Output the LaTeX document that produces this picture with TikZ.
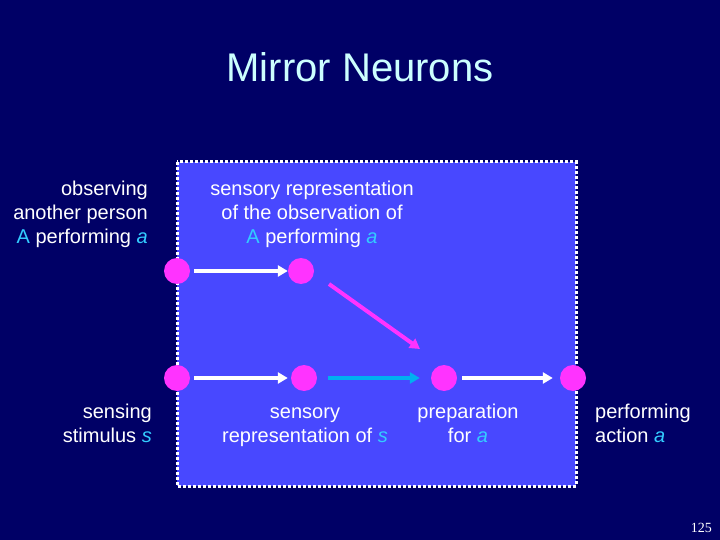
\documentclass[tikz,border=0pt]{standalone}
\usepackage{fontspec}
\setmainfont{Liberation Sans}
\setsansfont{Liberation Sans}
\newfontfamily\pgserif{Liberation Serif}
\usetikzlibrary{arrows.meta}
\definecolor{bgnavy}{RGB}{0,0,102}
\definecolor{boxblue}{RGB}{72,72,255}
\definecolor{neuron}{RGB}{255,51,255}
\definecolor{varcyan}{RGB}{51,204,255}
\definecolor{arrcyan}{RGB}{0,176,240}
\definecolor{titlecol}{RGB}{204,255,255}
\newcommand{\va}[1]{\textcolor{varcyan}{#1}}
\newcommand{\vi}[1]{\textcolor{varcyan}{\textit{#1}}}
\tikzset{
  neu/.style={circle, fill=neuron, minimum size=26pt, inner sep=0pt},
  lbl/.style={text=white, inner sep=0pt, font=\fontsize{20}{24}\selectfont},
  conn/.style={line width=4pt, -{Triangle[length=10pt,width=11pt]}},
}
\begin{document}
\begin{tikzpicture}[x=1pt,y=-1pt]
\fill[bgnavy] (0,0) rectangle (720,540);
\useasboundingbox (0,0) rectangle (720,540);
\node[text=titlecol, font=\fontsize{40}{44}\selectfont, anchor=base] (title) at (360,82) {Mirror Neurons};
\draw[white, fill=boxblue, line width=3pt, dash pattern=on 3pt off 2pt] (177,162) rectangle (576,486);
% neurons
\node[neu] (n1) at (177,271) {};
\node[neu] (n2) at (301,271) {};
\node[neu] (n3) at (177,378) {};
\node[neu] (n4) at (304,378) {};
\node[neu] (n5) at (444,378) {};
\node[neu] (n6) at (573,378) {};
% connectors
\draw[conn, white, shorten <=4pt] (n1) -- (n2);
\draw[conn, white, shorten <=4pt, shorten >=3pt] (n3) -- (n4);
\draw[conn, arrcyan, shorten <=11pt, shorten >=11pt] (n4) -- (n5);
\draw[conn, white, shorten <=5pt, shorten >=7pt] (n5) -- (n6);
\draw[conn, neuron] ([shift={(28,13)}]n2.center) -- ([shift={(-24,-29)}]n5.center);
% labels
\node[lbl, align=right, anchor=north east] (obs) at (148,179) {\strut observing\\another person\\\va{A} performing \vi{a}};
\node[lbl, align=center, anchor=north] (srobs) at (312,179) {\strut sensory representation\\of the observation of\\\va{A} performing \vi{a}};
\node[lbl, align=right, anchor=north east] (sens) at (152,401) {\strut sensing\\stimulus \vi{s}};
\node[lbl, align=center, anchor=north] (srs) at (305,401) {\strut sensory\\representation of \vi{s}};
\node[lbl, align=center, anchor=north] (prep) at (468,401) {\strut preparation\\for \vi{a}};
\node[lbl, align=left, anchor=north west] (perf) at (595,401) {\strut performing\\action \vi{a}};
\node[text=white, font=\pgserif\fontsize{14}{16}\selectfont, anchor=base east, inner sep=0pt] (pg) at (712,532) {125};
\end{tikzpicture}
\end{document}
